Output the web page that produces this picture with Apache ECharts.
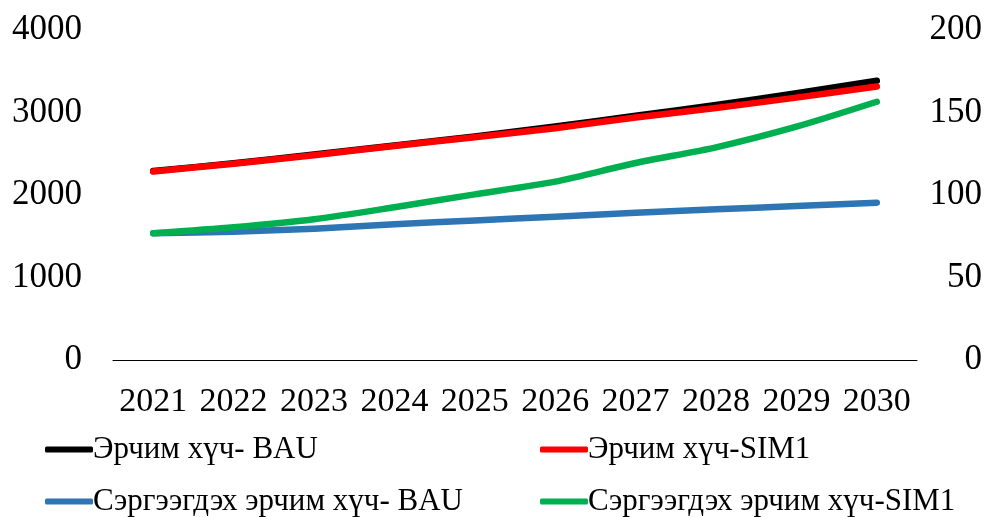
<!DOCTYPE html>
<html>
<head>
<meta charset="utf-8">
<script src="https://cdn.jsdelivr.net/npm/echarts@6/dist/echarts.min.js"></script>
<style>
    html, body { margin: 0; padding: 0; background: #fff; }
    #chart-box { width: 1002px; height: 517px; }
</style>
</head>
<body>
<div id="chart-box"></div>
<script>
// years on the x axis
var years = ['2021', '2022', '2023', '2024', '2025', '2026', '2027', '2028', '2029', '2030'];
// left axis
var energyBAU = [2290, 2385, 2490, 2600, 2710, 2830, 2960, 3090, 3235, 3385];
var energySIM1 = [2285, 2380, 2482, 2595, 2700, 2810, 2940, 3055, 3180, 3315];
// right axis
var renewBAU = [76.8, 77.8, 79.6, 82.2, 84.6, 86.8, 89.2, 91.3, 93.3, 95.3];
var renewSIM1 = [76.8, 80.4, 85.3, 92.6, 100.4, 108.1, 119.4, 128.9, 141.4, 156.5];
var seriesNames = ['Эрчим хүч- BAU', 'Эрчим хүч-SIM1', 'Сэргээгдэх эрчим хүч- BAU', 'Сэргээгдэх эрчим хүч-SIM1'];

var font = 'Liberation Serif';

function lineSeries(name, data, color, axis) {
    return {
        name: name,
        type: 'line',
        yAxisIndex: axis,
        data: data,
        symbol: 'none',
        smooth: 0.25,
        lineStyle: {
            width: 6.5,
            color: color,
            cap: 'round',
            join: 'round'
        },
        itemStyle: { color: color }
    };
}

function legendBox(name, left, top) {
    return {
        data: [name],
        left: left,
        top: top,
        icon: 'roundRect',
        itemWidth: 48,
        itemHeight: 6,
        padding: 0,
        textStyle: {
            fontFamily: font,
            fontSize: 31,
            color: '#000',
            padding: [0, 0, 0, -5]
        }
    };
}

var option = {
    animation: false,
    backgroundColor: '#fff',
    grid: {
        left: 113,
        right: 85,
        top: 30,
        bottom: 157
    },
    legend: [
        legendBox(seriesNames[0], 45, 434),
        legendBox(seriesNames[1], 540, 434),
        legendBox(seriesNames[2], 45, 486),
        legendBox(seriesNames[3], 540, 486)
    ],
    xAxis: {
        type: 'category',
        data: years,
        axisLine: { lineStyle: { color: '#000', width: 1 } },
        axisTick: { show: false },
        axisLabel: {
            color: '#000',
            fontFamily: font,
            fontSize: 34,
            margin: 25,
            interval: 0
        }
    },
    yAxis: [{
        type: 'value',
        min: 0,
        max: 4000,
        interval: 1000,
        axisLine: { show: false },
        axisTick: { show: false },
        splitLine: { show: false },
        axisLabel: {
            color: '#000',
            fontFamily: font,
            fontSize: 35,
            margin: 31,
            formatter: function (v) { return String(v); }
        }
    }, {
        type: 'value',
        min: 0,
        max: 200,
        interval: 50,
        axisLine: { show: false },
        axisTick: { show: false },
        splitLine: { show: false },
        axisLabel: {
            color: '#000',
            fontFamily: font,
            fontSize: 35,
            margin: 65,
            align: 'right'
        }
    }],
    series: [
        lineSeries(seriesNames[0], energyBAU, '#000000', 0),
        lineSeries(seriesNames[1], energySIM1, '#FF0000', 0),
        lineSeries(seriesNames[2], renewBAU, '#2E75B6', 1),
        lineSeries(seriesNames[3], renewSIM1, '#00B050', 1)
    ]
};

var myChart = echarts.init(document.getElementById('chart-box'));
myChart.setOption(option);
</script>
</body>
</html>
